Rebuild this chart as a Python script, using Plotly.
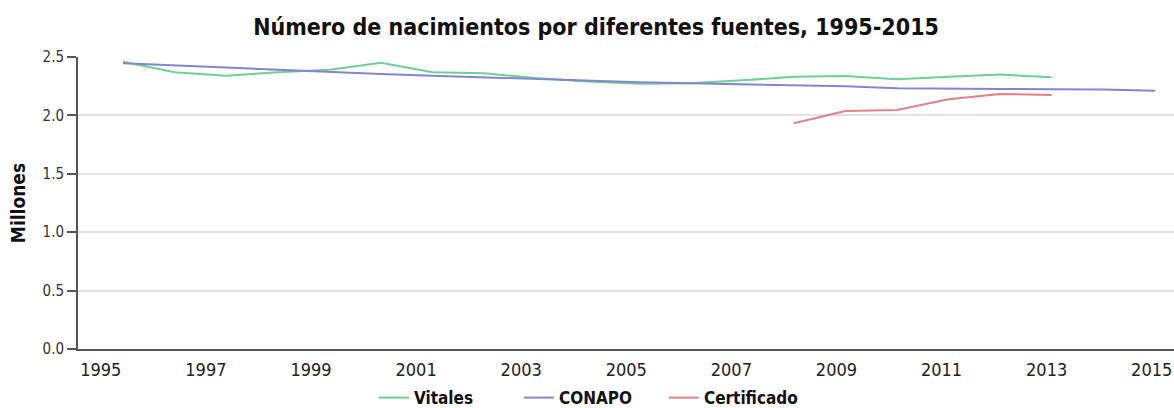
import plotly.graph_objects as go

# ---- data (millions of births) ----
years_vitales = [1995, 1996, 1997, 1998, 1999, 2000, 2001, 2002, 2003, 2004,
                 2005, 2006, 2007, 2008, 2009, 2010, 2011, 2012, 2013]
vitales = [2.46, 2.37, 2.34, 2.37, 2.39, 2.45, 2.37, 2.36, 2.32, 2.29,
           2.27, 2.275, 2.30, 2.33, 2.337, 2.31, 2.33, 2.35, 2.326]

years_conapo = [1995, 1996, 1997, 1998, 1999, 2000, 2001, 2002, 2003, 2004,
                2005, 2006, 2007, 2008, 2009, 2010, 2011, 2012, 2013, 2014, 2015]
conapo = [2.446, 2.43, 2.41, 2.39, 2.37, 2.355, 2.34, 2.326, 2.31, 2.297,
          2.283, 2.275, 2.266, 2.255, 2.25, 2.232, 2.226, 2.226, 2.223, 2.222, 2.21]

years_cert = [2008, 2009, 2010, 2011, 2012, 2013]
certificado = [1.932, 2.038, 2.046, 2.138, 2.183, 2.175]

x_tick_labels = ["1995", "1997", "1999", "2001", "2003", "2005",
                 "2007", "2009", "2011", "2013", "2015"]
y_tick_values = [0.0, 0.5, 1.0, 1.5, 2.0, 2.5]
y_tick_labels = ["0.0", "0.5", "1.0", "1.5", "2.0", "2.5"]

title_text = "Número de nacimientos por diferentes fuentes, 1995-2015"
y_title = "Millones"

# ---- styles ----
C_VIT = "#70cf98"
C_CON = "#8585cf"
C_CER = "#e2808b"
COND = "DejaVu Sans Condensed, DejaVu Sans, sans-serif"

# tick labels in the reference sit slightly left of the data years
LABEL_SHIFT = -0.43
LABEL_STRETCH = 1.0184
tick_pos = [1995 + LABEL_SHIFT + (int(t) - 1995) * LABEL_STRETCH for t in x_tick_labels]

fig = go.Figure()
fig.add_trace(go.Scatter(x=years_vitales, y=vitales, mode="lines", name="Vitales",
                         line=dict(color=C_VIT, width=2)))
fig.add_trace(go.Scatter(x=years_conapo, y=conapo, mode="lines", name="CONAPO",
                         line=dict(color=C_CON, width=2)))
fig.add_trace(go.Scatter(x=years_cert, y=certificado, mode="lines", name="Certificado",
                         line=dict(color=C_CER, width=2)))

fig.update_layout(
    width=1174, height=408,
    margin=dict(l=78, r=0, t=57, b=59, autoexpand=False),
    paper_bgcolor="white", plot_bgcolor="white",
    title=dict(text="<b>" + title_text + "</b>", x=0.5077, xref="container",
               xanchor="center", y=0.934, yref="container", yanchor="middle",
               font=dict(family=COND, size=23, color="#111")),
    showlegend=True,
    legend=dict(orientation="h", x=0.270, xanchor="left", y=-0.168,
                yanchor="middle",
                font=dict(family=COND, size=17, color="#111", weight="bold"),
                itemwidth=30, entrywidth=100, entrywidthmode="pixels",
                bgcolor="rgba(0,0,0,0)"),
    xaxis=dict(range=[1994.128, 2015.37], tickmode="array", tickvals=tick_pos,
               ticktext=x_tick_labels, showgrid=False, zeroline=False,
               showline=True, linecolor="#555", linewidth=2, ticks="",
               automargin=False, ticklabelstandoff=3,
               tickfont=dict(family=COND, size=18, color="#222")),
    yaxis=dict(range=[0, 2.5], tickmode="array", tickvals=y_tick_values,
               ticktext=y_tick_labels, showgrid=True, gridcolor="#e2e2e2",
               gridwidth=2, zeroline=False, showline=True, linecolor="#555",
               linewidth=2, ticks="outside", ticklen=9, tickcolor="#555",
               tickwidth=2, automargin=False,
               tickfont=dict(family=COND, size=15, color="#333"),
               title=dict(text="<b>" + y_title + "</b>", standoff=12,
                          font=dict(family=COND, size=19, color="#111"))),
)

fig.write_html("out.html", config={"displayModeBar": False},
               post_script="document.body.style.margin='0';")
